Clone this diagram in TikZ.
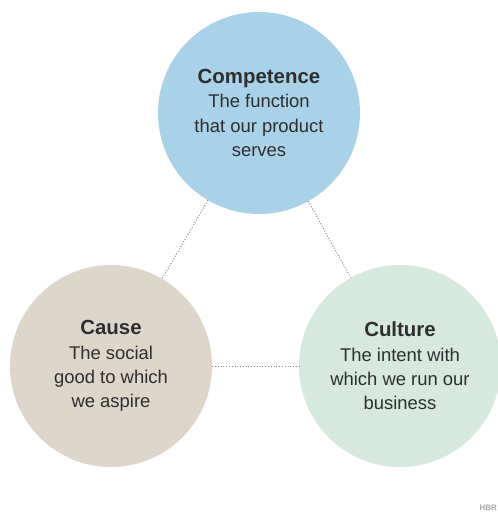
\documentclass[tikz,border=0pt]{standalone}
\usepackage{fontspec}
\setmainfont{Liberation Sans}
\usetikzlibrary{positioning}
\definecolor{competenceblue}{HTML}{A9D2E8}
\definecolor{causebeige}{HTML}{DDD7CB}
\definecolor{culturegreen}{HTML}{D6E9DF}
\definecolor{linkgrey}{HTML}{8A8A8A}
\tikzset{
   pillar/.style={ circle, minimum size=202bp, inner sep=0pt, text centered, align=center, text=black!82,
                   font=\fontsize{18.5}{24.5}\selectfont},
   link/.style={ draw=linkgrey, line width=1pt, dash pattern=on 1pt off 1.8pt},
   logo/.style={ text=black!35, font=\bfseries\fontsize{8}{9}\selectfont, inner sep=0pt, anchor=east}
}
\newcommand{\pillartitle}[1]{{\bfseries\fontsize{20.5}{24.5}\selectfont #1}}

\begin{document}
\begin{tikzpicture}[x=1bp,y=-1bp]

  \useasboundingbox (0,0) rectangle (498,515);

  \node[pillar, fill=competenceblue] at (259,113) (competence) {\pillartitle{Competence}\\The function\\that our product\\serves};
  \node[pillar, fill=causebeige]     at (111,366) (cause)      {\pillartitle{Cause}\\The social\\good to which\\we aspire};
  \node[pillar, fill=culturegreen]   at (400,366) (culture)    {\pillartitle{Culture}\\The intent with\\which we run our\\business};

  \draw[link] (competence) -- (cause);
  \draw[link] (competence) -- (culture);
  \draw[link] (cause) -- (culture);

  \node[logo] at (497,508) (hbr) {HBR};

\end{tikzpicture}
\end{document}
